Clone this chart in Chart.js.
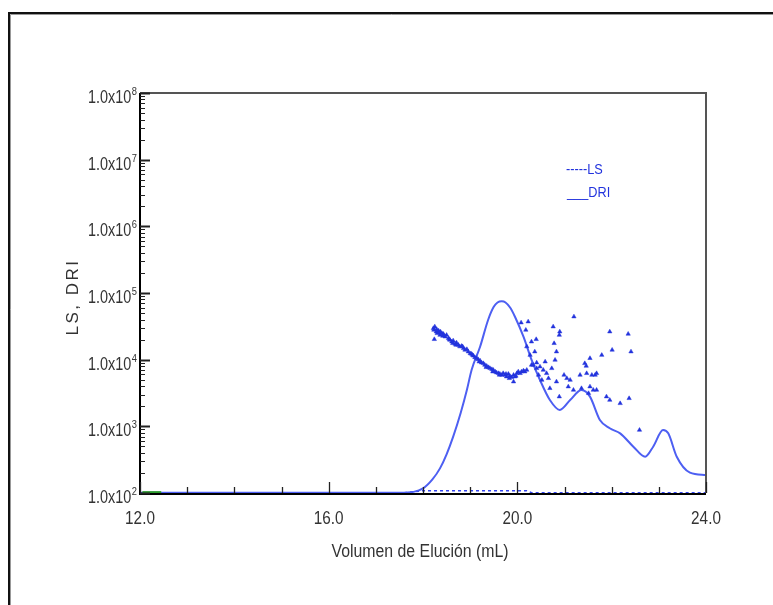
<!DOCTYPE html>
<html>
<head>
<meta charset="utf-8">
<script src="https://cdn.jsdelivr.net/npm/chart.js@4.4.1/dist/chart.umd.min.js"></script>
<style>
html,body{margin:0;padding:0;background:#fff;}
#wrap{width:773px;height:605px;position:relative;}
</style>
</head>
<body>
<div id="wrap"><canvas id="c" width="773" height="605"></canvas></div>
<script>
// ---- data ----
const xTickValues = [12, 16, 20, 24];
const xTickLabels = ['12.0', '16.0', '20.0', '24.0'];
const yTickValues = [1e2, 1e3, 1e4, 1e5, 1e6, 1e7, 1e8];
const yTickBase = '1.0x10';
const yTickExp = ['2', '3', '4', '5', '6', '7', '8'];
const xTitle = 'Volumen de Elución (mL)';
const yTitle = 'LS, DRI';

// DRI (refractive index) trace
const driX = [12.0, 17.0, 17.5, 17.8, 18.0, 18.2, 18.36, 18.5, 18.64, 18.8, 18.93, 19.03, 19.21, 19.38, 19.50, 19.58, 19.67, 19.75, 19.85, 19.95, 20.13, 20.30, 20.48, 20.69, 20.90, 21.12, 21.36, 21.54, 21.75, 21.96, 22.18, 22.46, 22.71, 22.88, 23.09, 23.20, 23.38, 23.66, 24.0];
const driY = [101, 101, 101, 104, 117, 160, 234, 380, 700, 1600, 3500, 7000, 15600, 39400, 62000, 72000, 75000, 72000, 60000, 44000, 22100, 10000, 4950, 2480, 1760, 2480, 3500, 2790, 1245, 935, 785, 495, 350, 495, 880, 785, 350, 202, 186];

// LS baseline trace (dashed)
const lsX = [17.6, 18.0, 20.2, 20.3, 24.0];
const lsY = [101, 108, 108, 101, 101];

// LS points (triangles)
const ptsX = [18.22, 18.23, 18.24, 18.25, 18.28, 18.29, 18.30, 18.33, 18.35, 18.36, 18.40, 18.42, 18.43, 18.47, 18.50, 18.54, 18.57, 18.61, 18.63, 18.64, 18.68, 18.71, 18.75, 18.78, 18.82, 18.86, 18.89, 18.93, 18.96, 19.00, 19.03, 19.07, 19.10, 19.14, 19.17, 19.21, 19.24, 19.28, 19.31, 19.35, 19.39, 19.42, 19.46, 19.49, 19.53, 19.56, 19.60, 19.63, 19.67, 19.70, 19.74, 19.77, 19.81, 19.84, 19.88, 19.92, 19.92, 19.95, 19.99, 20.02, 20.06, 20.09, 20.13, 20.16, 20.20,
  18.37, 18.44, 18.56, 18.70, 18.84, 19.05, 19.19, 19.34, 19.48, 19.62, 19.76, 19.83, 19.97,
  20.08, 20.23, 20.18, 20.30, 20.40, 20.20, 20.37, 20.27, 20.34, 20.41, 20.48, 20.59, 20.55, 20.62, 20.73, 20.76, 20.78, 20.83, 20.89, 20.90, 20.80, 20.69, 20.83, 20.89, 20.99, 21.05, 21.12, 21.08, 21.19, 21.20, 21.33, 21.43, 21.46, 21.54, 21.58, 21.47, 21.65, 21.68, 21.54, 21.61, 21.79, 21.96, 22.01, 21.68, 21.89, 21.96, 22.18, 22.35, 22.41, 22.37, 22.59, 21.36, 21.51, 20.45, 20.52, 20.66, 20.30, 20.41];
const ptsY = [29500, 27900, 20200, 31300, 26300, 28500, 24800, 27200, 25400, 23400, 24800, 22600, 24300, 22100, 23400, 20900, 19700, 18600, 17600, 19300, 17200, 18000, 16600, 15700, 16000, 14800, 14000, 14300, 13200, 12400, 12200, 11400, 10800, 10500, 10100, 9660, 9020, 8810, 8320, 8040, 7670, 7410, 7160, 7000, 6610, 6380, 6240, 6100, 5890, 6240, 5890, 5560, 6100, 5690, 5430, 5890, 4680, 5560, 6240, 6610, 6240, 6610, 6840, 6610, 7000,
  26300, 23400, 20200, 16600, 15700, 11700, 9330, 7670, 6610, 5890, 6100, 5250, 5690,
  35900, 37200, 27900, 18600, 20200, 15700, 13200, 11700, 8320, 7410, 7850, 9330, 7000, 6240, 7410, 31300, 17600, 13200, 23400, 26300, 9900, 3720, 4680, 2790, 5890, 5250, 4950, 3940, 3510, 44200, 5890, 8810, 8040, 10500, 5890, 6240, 5890, 6240, 3940, 3510, 11700, 26300, 14000, 3510, 2790, 2480, 2210, 24300, 13200, 2630, 880, 3720, 3130, 5890, 4950, 5250, 8320, 9020];

// small green baseline segment
const greenX = [12.05, 12.45];
const greenY = [103, 103];

const zip = (xs, ys) => xs.map((x, i) => ({x: x, y: ys[i]}));

const FONT = '"Liberation Sans", Arial, sans-serif';

function drawScaled(ctx, text, x, y, align, sx) {
  ctx.save();
  ctx.translate(x, y);
  ctx.scale(sx, 1);
  ctx.textAlign = align;
  ctx.fillText(text, 0, 0);
  ctx.restore();
}

const deco = {
  id: 'deco',
  beforeDraw(chart) {
    const ctx = chart.ctx;
    ctx.save();
    ctx.fillStyle = '#fff';
    ctx.fillRect(0, 0, chart.width, chart.height);
    // outer frame
    ctx.strokeStyle = '#111';
    ctx.lineWidth = 2;
    ctx.beginPath();
    ctx.moveTo(9, 605);
    ctx.lineTo(9, 13);
    ctx.lineTo(773, 13);
    ctx.stroke();
    ctx.strokeStyle = '#999';
    ctx.lineWidth = 1;
    ctx.beginPath();
    ctx.moveTo(10.5, 605);
    ctx.lineTo(10.5, 14.5);
    ctx.lineTo(773, 14.5);
    ctx.stroke();
    ctx.restore();
  },
  afterDatasetsDraw(chart) {
    const ctx = chart.ctx;
    const xs = chart.scales.x, ys = chart.scales.y;
    const a = chart.chartArea;
    ctx.save();
    // plot frame
    ctx.strokeStyle = '#555';
    ctx.lineWidth = 2;
    ctx.beginPath();
    ctx.moveTo(a.left, a.top); ctx.lineTo(a.right, a.top); ctx.lineTo(a.right, a.bottom);
    ctx.stroke();
    ctx.strokeStyle = '#000';
    ctx.beginPath();
    ctx.moveTo(a.left, a.top); ctx.lineTo(a.left, a.bottom + 1); ctx.lineTo(a.right, a.bottom + 1);
    ctx.stroke();

    // x ticks (inward, upwards)
    ctx.strokeStyle = '#222';
    ctx.lineWidth = 1.3;
    for (let v = xs.min; v <= xs.max + 1e-9; v += 1) {
      const px = Math.round(xs.getPixelForValue(v)) + 0.5;
      const major = xTickValues.some(t => Math.abs(t - v) < 1e-6);
      const len = major ? 11 : 6;
      ctx.beginPath();
      ctx.moveTo(px, a.bottom);
      ctx.lineTo(px, a.bottom - len);
      ctx.stroke();
    }
    // y ticks (inward, to the right)
    for (let i = 0; i < yTickValues.length; i++) {
      const dec = yTickValues[i];
      const py = Math.round(ys.getPixelForValue(dec)) + 0.5;
      ctx.lineWidth = 2;
      ctx.beginPath();
      ctx.moveTo(a.left, py); ctx.lineTo(a.left + 10, py); ctx.stroke();
      if (i < yTickValues.length - 1) {
        ctx.lineWidth = 1;
        for (let m = 2; m <= 9; m++) {
          const pm = Math.round(ys.getPixelForValue(dec * m)) + 0.5;
          ctx.beginPath();
          ctx.moveTo(a.left, pm); ctx.lineTo(a.left + 5, pm); ctx.stroke();
        }
      }
    }

    // y tick labels
    ctx.fillStyle = '#333';
    ctx.textBaseline = 'alphabetic';
    for (let i = 0; i < yTickValues.length; i++) {
      const py = ys.getPixelForValue(yTickValues[i]);
      ctx.font = '11px ' + FONT;
      const supW = ctx.measureText(yTickExp[i]).width * 0.85;
      const supRight = a.left - 3;
      drawScaled(ctx, yTickExp[i], supRight, py + 2, 'right', 0.85);
      ctx.font = '18px ' + FONT;
      drawScaled(ctx, yTickBase, supRight - supW - 0.5, py + 10, 'right', 0.8);
    }
    // x tick labels
    ctx.font = '18px ' + FONT;
    for (let i = 0; i < xTickValues.length; i++) {
      const px = xs.getPixelForValue(xTickValues[i]);
      drawScaled(ctx, xTickLabels[i], px, a.bottom + 31, 'center', 0.85);
    }
    // x title
    ctx.font = '18px ' + FONT;
    drawScaled(ctx, xTitle, (a.left + a.right) / 2 - 3, a.bottom + 64, 'center', 0.88);
    // y title
    ctx.save();
    ctx.translate(78, 297);
    ctx.rotate(-Math.PI / 2);
    ctx.font = '17px ' + FONT;
    ctx.letterSpacing = '2.5px';
    ctx.textAlign = 'center';
    ctx.fillText(yTitle, 0, 0);
    ctx.restore();

    // legend
    ctx.fillStyle = '#2233dd';
    ctx.font = '15px ' + FONT;
    drawScaled(ctx, '-----' + chart.data.datasets[1].label, 566, 174, 'left', 0.85);
    drawScaled(ctx, '___' + chart.data.datasets[0].label, 567, 197, 'left', 0.85);
    ctx.restore();
  }
};

new Chart(document.getElementById('c'), {
  type: 'scatter',
  data: {
    datasets: [
      {
        label: 'DRI',
        data: zip(driX, driY),
        showLine: true,
        borderColor: '#4d5ff2',
        borderWidth: 2,
        pointRadius: 0,
        cubicInterpolationMode: 'monotone',
        order: 2
      },
      {
        label: 'LS',
        data: zip(lsX, lsY),
        showLine: true,
        borderColor: '#3344ee',
        borderWidth: 1.5,
        borderDash: [3, 3],
        pointRadius: 0,
        order: 3
      },
      {
        label: 'LS puntos',
        data: zip(ptsX, ptsY),
        showLine: false,
        pointStyle: 'triangle',
        pointRadius: 2.5,
        backgroundColor: '#2233dd',
        borderColor: '#2233dd',
        borderWidth: 0.5,
        order: 1
      },
      {
        label: 'base',
        data: zip(greenX, greenY),
        showLine: true,
        borderColor: '#2a9a2a',
        borderWidth: 2,
        pointRadius: 0,
        order: 0
      }
    ]
  },
  options: {
    responsive: false,
    animation: false,
    layout: { padding: { left: 140, right: 67, top: 93, bottom: 112 } },
    plugins: { legend: { display: false }, tooltip: { enabled: false } },
    scales: {
      x: { type: 'linear', min: 12, max: 24, display: false },
      y: { type: 'logarithmic', min: 100, max: 1e8, display: false }
    }
  },
  plugins: [deco]
});
</script>
</body>
</html>
